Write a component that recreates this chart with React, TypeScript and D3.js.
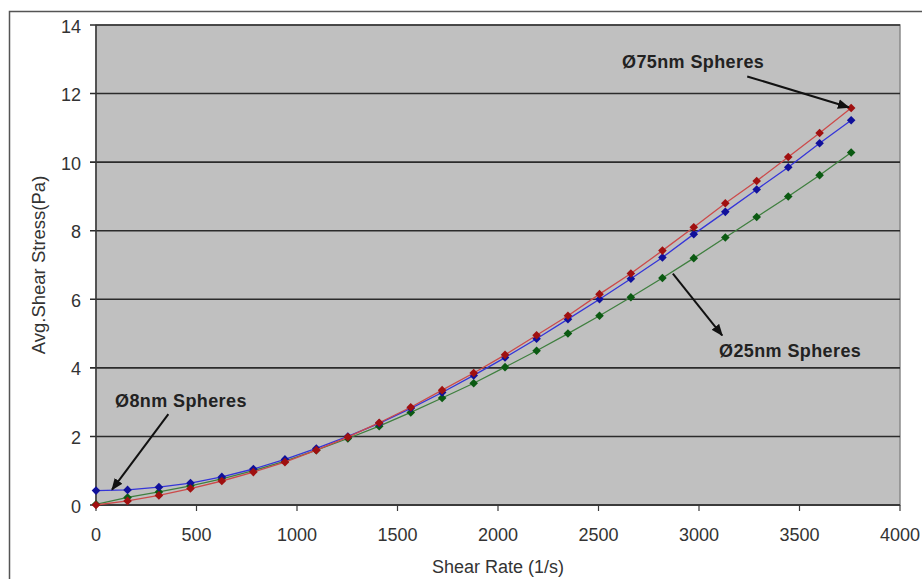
import React, { useEffect } from 'react';
import * as d3 from 'd3';

// shear rate (1/s) at each measured point
const shearRate = [0, 157, 313, 470, 626, 783, 940, 1096, 1253, 1409, 1566, 1722, 1879, 2035, 2192, 2348, 2505, 2661, 2818, 2974, 3131, 3287, 3444, 3600, 3757];

// avg shear stress (Pa)
const stress8nm = [0.42, 0.44, 0.52, 0.64, 0.82, 1.05, 1.33, 1.65, 2.0, 2.38, 2.82, 3.28, 3.78, 4.3, 4.85, 5.42, 6.0, 6.6, 7.22, 7.9, 8.55, 9.2, 9.85, 10.55, 11.22];
const stress25nm = [0.02, 0.22, 0.38, 0.56, 0.76, 1.0, 1.28, 1.6, 1.94, 2.3, 2.7, 3.12, 3.55, 4.02, 4.5, 5.0, 5.52, 6.06, 6.62, 7.2, 7.8, 8.4, 9.0, 9.62, 10.28];
const stress75nm = [0.0, 0.12, 0.28, 0.48, 0.7, 0.96, 1.25, 1.6, 1.98, 2.4, 2.85, 3.35, 3.85, 4.38, 4.95, 5.52, 6.15, 6.75, 7.42, 8.1, 8.8, 9.45, 10.15, 10.85, 11.58];

const xTicks = [0, 500, 1000, 1500, 2000, 2500, 3000, 3500, 4000];
const yTicks = [0, 2, 4, 6, 8, 10, 12, 14];

const series = [
  { name: '25nm', values: stress25nm, line: '#3f7f3f', marker: '#0b5a12' },
  { name: '8nm', values: stress8nm, line: '#3535d8', marker: '#10109a' },
  { name: '75nm', values: stress75nm, line: '#cc4a4a', marker: '#a01010' },
];

// annotation text + arrow (arrow ends given in data units)
const notes = [
  { text: 'Ø75nm Spheres', tx: 622, ty: 68, from: [3240, 12.5], to: [3745, 11.6] },
  { text: 'Ø25nm Spheres', tx: 719, ty: 357, from: [2870, 6.75], to: [3115, 4.95] },
  { text: 'Ø8nm Spheres', tx: 115, ty: 407, from: [360, 2.65], to: [80, 0.45] },
];

const W = 922;
const H = 579;
const m = { left: 96, right: 22, top: 25, bottom: 74 };

export default function App() {
  useEffect(() => {
    document.body.style.margin = '0';
  }, []);

  const x = d3.scaleLinear().domain([0, 4000]).range([m.left, W - m.right]);
  const y = d3.scaleLinear().domain([0, 14]).range([H - m.bottom, m.top]);

  const line = d3.line<number>()
    .x((_, i) => x(shearRate[i]))
    .y((d) => y(d));

  const diamond = (cx: number, cy: number, r: number) =>
    `M${cx},${cy - r}L${cx + r},${cy}L${cx},${cy + r}L${cx - r},${cy}Z`;

  const font = 'Liberation Sans, Arial, sans-serif';
  const txt = '#333';

  return (
    <svg width={W} height={H} style={{ display: 'block', background: '#fff' }}>
      <defs>
        <marker id="arr" viewBox="0 0 10 10" refX="9" refY="5" markerWidth="6" markerHeight="6" orient="auto-start-reverse">
          <path d="M0,1L10,5L0,9Z" fill="#111" />
        </marker>
      </defs>
      {/* outer chart frame */}
      <rect x={9.5} y={11.5} width={W + 10} height={H + 10} fill="none" stroke="#555" strokeWidth={1.5} />

      {/* plot area */}
      <rect x={x(0)} y={y(14)} width={x(4000) - x(0)} height={y(0) - y(14)} fill="#c0c0c0" stroke="#8a8a8a" strokeWidth={1.5} />

      {/* gridlines */}
      {yTicks.map((t) => (
        <line key={'g' + t} x1={x(0) - 6} x2={x(4000)} y1={y(t)} y2={y(t)} stroke="#2b2b2b" strokeWidth={1.6} />
      ))}

      {/* axes */}
      <line x1={x(0)} x2={x(0)} y1={y(14)} y2={y(0)} stroke="#3a3a3a" strokeWidth={1.5} />
      <line x1={x(0)} x2={x(4000)} y1={y(0)} y2={y(0)} stroke="#3a3a3a" strokeWidth={2} />
      {xTicks.map((t) => (
        <line key={'xt' + t} x1={x(t)} x2={x(t)} y1={y(0)} y2={y(0) + 6} stroke="#3a3a3a" strokeWidth={1.2} />
      ))}

      {yTicks.map((t) => (
        <text key={'yl' + t} x={x(0) - 15} y={y(t)} dy="0.42em" textAnchor="end" fontFamily={font} fontSize={18} fill={txt}>{t}</text>
      ))}
      {xTicks.map((t) => (
        <text key={'xl' + t} x={x(t)} y={y(0) + 36} textAnchor="middle" fontFamily={font} fontSize={18} fill={txt}>{t}</text>
      ))}

      <text x={(x(0) + x(4000)) / 2} y={573} textAnchor="middle" fontFamily={font} fontSize={18} fill={txt}>Shear Rate (1/s)</text>
      <text transform={`translate(45,${(y(0) + y(14)) / 2}) rotate(-90)`} textAnchor="middle" fontFamily={font} fontSize={18.5} fill={txt}>Avg.Shear Stress(Pa)</text>

      {/* series */}
      {series.map((s) => (
        <g key={s.name}>
          <path d={line(s.values) || ''} fill="none" stroke={s.line} strokeWidth={1.3} />
          {s.values.map((v, i) => (
            <path key={i} d={diamond(x(shearRate[i]), y(v), 4.3)} fill={s.marker} />
          ))}
        </g>
      ))}

      {/* annotations */}
      {notes.map((n) => (
        <g key={n.text}>
          <line x1={x(n.from[0])} y1={y(n.from[1])} x2={x(n.to[0])} y2={y(n.to[1])} stroke="#111" strokeWidth={2} markerEnd="url(#arr)" />
          <text x={n.tx} y={n.ty} fontFamily={font} fontSize={18} fontWeight="bold" letterSpacing={0.4} fill="#222">{n.text}</text>
        </g>
      ))}
    </svg>
  );
}
